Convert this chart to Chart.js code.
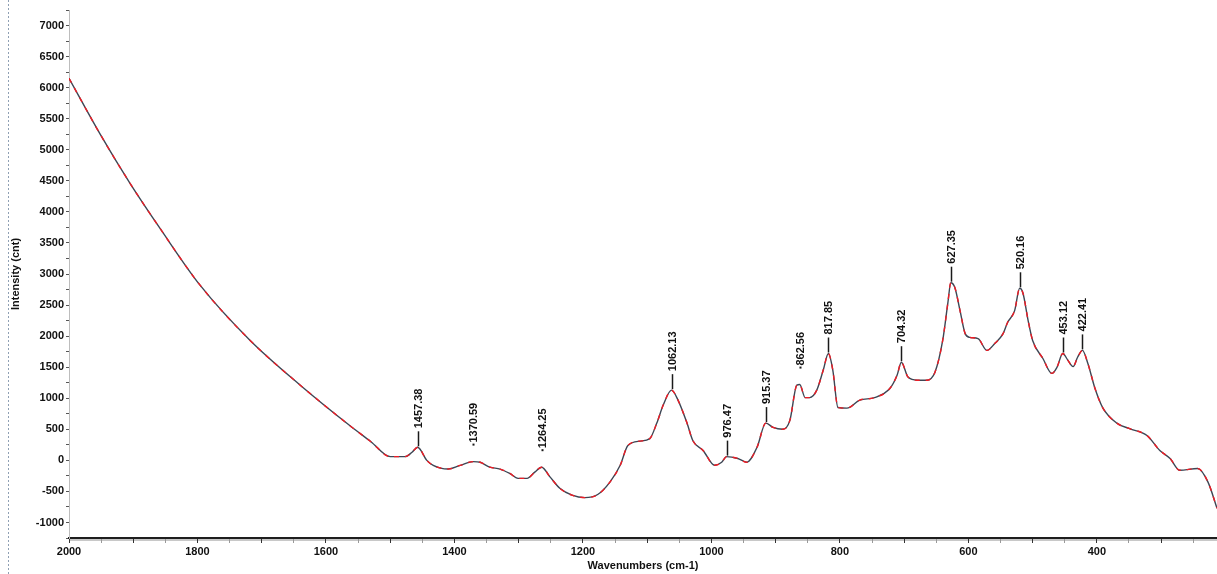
<!DOCTYPE html>
<html>
<head>
<meta charset="utf-8">
<script src="https://cdn.jsdelivr.net/npm/chart.js@4.4.1/dist/chart.umd.min.js"></script>
<style>
  html, body { margin: 0; padding: 0; background: #fff; }
  canvas { display: block; }
</style>
</head>
<body>
<canvas id="spectrum" width="1217" height="574"></canvas>
<script>
// Spectrum samples: wavenumber (cm-1) and measured intensity (cnt)
const wavenumbers = [2000, 1952, 1905, 1858, 1796, 1718, 1640, 1563, 1530, 1500, 1477, 1466, 1457.38, 1443, 1433, 1410, 1391,
  1370.59, 1360, 1345, 1329, 1314, 1301, 1287, 1275, 1264.25, 1251, 1236, 1217, 1197, 1177, 1158, 1142, 1130, 1111,
  1096, 1085, 1075, 1062.13, 1052, 1038, 1029, 1013, 995, 984, 976.47, 959, 945, 929, 915.37, 904, 889, 878, 867,
  862.56, 854, 847, 836, 826, 817.85, 811, 803, 789, 769, 746, 722, 711, 704.32, 694, 679, 665, 652, 640, 632, 627.35,
  621, 613, 605, 598, 585, 571, 559, 546, 539, 528, 520.16, 515, 507, 500, 484, 470, 462, 453.12, 445, 437, 430, 422.41,
  414, 403, 391, 369, 349, 322, 302, 286, 271, 243, 227, 213];

const intensity = [6150, 5260, 4460, 3730, 2820, 1930, 1210, 560, 300, 60, 60, 130, 210, 0, -80, -140, -80,
  -20, -30, -110, -140, -210, -290, -290, -190, -110, -270, -450, -560, -600, -550, -350, -80, 240, 310,
  350, 600, 890, 1130, 970, 600, 320, 160, -80, -30, 60, 30, -30, 210, 600, 530, 500, 640, 1210,
  1220, 1010, 1010, 1130, 1450, 1720, 1450, 850, 840, 970, 1010, 1160, 1370, 1580, 1340, 1290, 1290, 1420, 1930, 2530, 2860,
  2780, 2410, 2040, 1980, 1960, 1770, 1880, 2040, 2220, 2410, 2770, 2690, 2250, 1930, 1640, 1400, 1500, 1720, 1610, 1510, 1660, 1770,
  1560, 1160, 850, 600, 510, 400, 160, 30, -160, -130, -350, -770];

// Picked peaks (must be sample positions above)
const peakWavenumbers = [1457.38, 1370.59, 1264.25, 1062.13, 976.47, 915.37, 862.56, 817.85, 704.32, 627.35, 520.16, 453.12, 422.41];
// Peaks shown with only a dot instead of a leader line
const dotOnlyPeaks = [1370.59, 1264.25, 862.56];

// Axis ticks
const xLabelTicks = [2000, 1800, 1600, 1400, 1200, 1000, 800, 600, 400];
const yLabelTicks = [7000, 6500, 6000, 5500, 5000, 4500, 4000, 3500, 3000, 2500, 2000, 1500, 1000, 500, 0, -500, -1000];

const X_MIN = 213, X_MAX = 2000, Y_MIN = -1250, Y_MAX = 7250;

const points = wavenumbers.map((w, i) => ({ x: w, y: intensity[i] }));

const FONT = '"Liberation Sans", Arial, sans-serif';

// Leader lines and rotated peak labels
const peakLabels = {
  id: 'peakLabels',
  afterDatasetsDraw(chart) {
    const { ctx, scales: { x, y } } = chart;
    ctx.save();
    peakWavenumbers.forEach(w => {
      const i = wavenumbers.indexOf(w);
      if (i < 0) return;
      const px = Math.round(x.getPixelForValue(w)) + 0.5;
      const py = y.getPixelForValue(intensity[i]);
      const lineLen = 15;
      ctx.strokeStyle = '#1a1a1a';
      ctx.fillStyle = '#1a1a1a';
      ctx.lineWidth = 1.5;
      if (dotOnlyPeaks.includes(w)) {
        ctx.fillRect(px - 1, py - lineLen - 3, 2, 2);
      } else {
        ctx.beginPath();
        ctx.moveTo(px, py - 1);
        ctx.lineTo(px, py - lineLen - 1);
        ctx.stroke();
      }
      ctx.save();
      ctx.translate(px, py - lineLen - 4);
      ctx.rotate(-Math.PI / 2);
      ctx.font = 'bold 11px ' + FONT;
      ctx.textAlign = 'left';
      ctx.textBaseline = 'middle';
      ctx.fillStyle = '#111';
      ctx.fillText(w.toFixed(2), 0, 0);
      ctx.restore();
    });
    ctx.restore();
  }
};

// Thin frame rule at the far left and shading under the x axis line
const frame = {
  id: 'frame',
  beforeDraw(chart) {
    const { ctx, chartArea } = chart;
    ctx.save();
    ctx.fillStyle = '#fff';
    ctx.fillRect(0, 0, chart.width, chart.height);
    ctx.strokeStyle = '#8fa0b4';
    ctx.lineWidth = 1;
    ctx.setLineDash([2, 2]);
    ctx.beginPath();
    ctx.moveTo(8.5, 0);
    ctx.lineTo(8.5, chart.height);
    ctx.stroke();
    ctx.setLineDash([]);
    ctx.fillStyle = '#c8c8c8';
    ctx.fillRect(chartArea.left, chartArea.bottom + 1, chartArea.right - chartArea.left, 2);
    ctx.restore();
  }
};

new Chart(document.getElementById('spectrum'), {
  type: 'line',
  data: {
    datasets: [
      {
        data: points,
        borderColor: '#3d4654',
        borderWidth: 1.4,
        pointRadius: 0,
        cubicInterpolationMode: 'monotone',
        order: 2
      },
      {
        data: points,
        borderColor: '#ee1c25',
        borderWidth: 1.4,
        borderDash: [5, 6],
        pointRadius: 0,
        cubicInterpolationMode: 'monotone',
        order: 1
      }
    ]
  },
  options: {
    responsive: false,
    animation: false,
    layout: { padding: { top: 10, right: 0, left: 0, bottom: 0 } },
    plugins: {
      legend: { display: false },
      tooltip: { enabled: false }
    },
    scales: {
      x: {
        type: 'linear',
        reverse: true,
        min: X_MIN,
        max: X_MAX,
        afterBuildTicks(scale) {
          const t = [];
          for (let v = X_MAX; v >= 250; v -= 50) t.push({ value: v });
          scale.ticks = t;
        },
        afterFit(scale) { scale.height = 36; },
        ticks: {
          autoSkip: false,
          maxRotation: 0,
          padding: 2,
          color: '#111',
          font: { family: FONT, size: 11, weight: 'bold' },
          callback: v => (xLabelTicks.includes(v) ? String(v) : '')
        },
        grid: {
          drawOnChartArea: false,
          drawTicks: true,
          tickLength: 5,
          lineWidth: 1,
          color: ctx => (ctx.tick && ctx.tick.value % 100 === 0 ? '#333' : '#9a9a9a')
        },
        border: { display: true, color: '#1e1e1e', width: 2 },
        title: {
          display: true,
          text: 'Wavenumbers (cm-1)',
          color: '#111',
          font: { family: FONT, size: 11, weight: 'bold' },
          padding: { top: 0, bottom: 1 }
        }
      },
      y: {
        type: 'linear',
        min: Y_MIN,
        max: Y_MAX,
        afterBuildTicks(scale) {
          const t = [];
          for (let v = Y_MIN; v <= Y_MAX; v += 250) t.push({ value: v });
          scale.ticks = t;
        },
        afterFit(scale) { scale.width = 69; },
        ticks: {
          autoSkip: false,
          padding: 2,
          color: '#111',
          font: { family: FONT, size: 11, weight: 'bold' },
          callback: v => (yLabelTicks.includes(v) ? String(v) : '')
        },
        grid: {
          drawOnChartArea: false,
          drawTicks: true,
          tickLength: 3,
          color: '#555'
        },
        border: { display: true, color: '#bdbdbd', width: 1 },
        title: {
          display: true,
          text: 'Intensity (cnt)',
          color: '#111',
          font: { family: FONT, size: 11, weight: 'bold' },
          padding: { top: 9, bottom: 0 }
        }
      }
    }
  },
  plugins: [frame, peakLabels]
});
</script>
</body>
</html>
